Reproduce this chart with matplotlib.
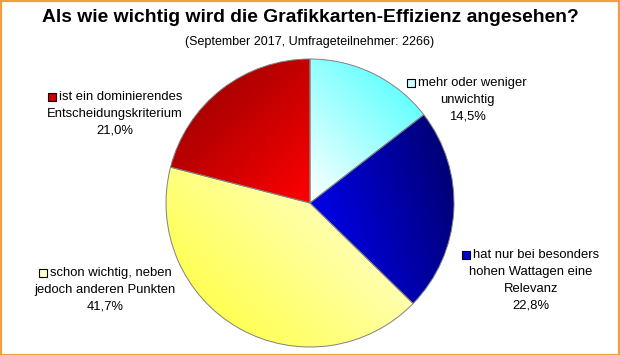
import matplotlib
matplotlib.use("Agg")
import matplotlib.pyplot as plt
import numpy as np
from matplotlib.colors import LinearSegmentedColormap
from matplotlib.patches import Rectangle

plt.rcParams['font.family'] = ['Liberation Sans', 'DejaVu Sans']

title = "Als wie wichtig wird die Grafikkarten-Effizienz angesehen?"
subtitle = "(September 2017, Umfrageteilnehmer: 2266)"

categories = [
    "mehr oder weniger\nunwichtig",
    "hat nur bei besonders\nhohen Wattagen eine\nRelevanz",
    "schon wichtig, neben\njedoch anderen Punkten",
    "ist ein dominierendes\nEntscheidungskriterium",
]
values = [14.5, 22.8, 41.7, 21.0]
value_labels = ["14,5%", "22,8%", "41,7%", "21,0%"]

# gradient colours (start, end) and direction for each slice
grad_colors = [("#ffffff", "#40ffff"), ("#0000ff", "#000068"),
               ("#ffff30", "#ffffe8"), ("#8c0000", "#ff0000")]
grad_dirs = [(1, 1), (1, 0.3), (1, 1), (1, -1)]
marker_colors = ["#ccffff", "#0000cc", "#ffffcc", "#cc0000"]

# label anchor (pixel x centre, pixel y of first line from top)
label_pos = [(467, 83), (531, 255), (105, 273), (115, 97)]

W, H = 620, 355
fig = plt.figure(figsize=(W / 100, H / 100), dpi=100)

cx, cy, r = 310, 203, 144
ax = fig.add_axes([(cx - r) / W, (H - cy - r) / H, 2 * r / W, 2 * r / H])
wedges, _ = ax.pie(values, startangle=90, counterclock=False, radius=1,
                   wedgeprops=dict(facecolor="none", edgecolor="#808080",
                                   linewidth=0.7, zorder=3))
ax.set_xlim(-1.0, 1.0)
ax.set_ylim(-1.0, 1.0)
ax.set_aspect("equal")
ax.axis("off")

for w, (c0, c1), d in zip(wedges, grad_colors, grad_dirs):
    ext = w.get_path().get_extents()
    x0, y0, x1, y1 = ext.x0, ext.y0, ext.x1, ext.y1
    xs = np.linspace(x0, x1, 200)
    ys = np.linspace(y0, y1, 200)
    X, Y = np.meshgrid(xs, ys)
    t = X * d[0] + Y * d[1]
    t = (t - t.min()) / (t.max() - t.min())
    cmap = LinearSegmentedColormap.from_list("g", [c0, c1])
    im = ax.imshow(t, extent=(x0, x1, y0, y1), origin="lower", cmap=cmap,
                   interpolation="bilinear", zorder=2, aspect="auto")
    im.set_clip_path(w)

fig.text(0.5, 1 - 18 / H, title, ha="center", va="center",
         fontsize=13.9, fontweight="bold")
fig.text(0.5, 1 - 42 / H, subtitle, ha="center", va="center", fontsize=9)

fs = 9.35
lh = 16.8
renderer = fig.canvas.get_renderer()
for cat, val, (px, py), mc in zip(categories, value_labels, label_pos, marker_colors):
    lines = cat.split("\n") + [val]
    for i, line in enumerate(lines):
        y = 1 - (py + i * lh) / H
        if i == 0:
            t = fig.text(px / W, y, line, ha="center", va="center", fontsize=fs)
            bb = t.get_window_extent(renderer)
            shift = 5.5
            t.set_x((px + shift) / W)
            left = bb.x0 + shift
            sq = 8
            fig.patches.append(Rectangle(((left - sq - 3) / W, y - sq / 2 / H),
                                         sq / W, sq / H,
                                         transform=fig.transFigure,
                                         facecolor=mc, edgecolor="black",
                                         linewidth=0.8))
        else:
            fig.text(px / W, y, line, ha="center", va="center", fontsize=fs)

fig.patches.append(Rectangle((0.5 / W, 0.5 / H), 1 - 1.5 / W, 1 - 1.5 / H,
                             transform=fig.transFigure, fill=False,
                             edgecolor="#f0a040", linewidth=1.6))

fig.savefig("out.png", dpi=100)
